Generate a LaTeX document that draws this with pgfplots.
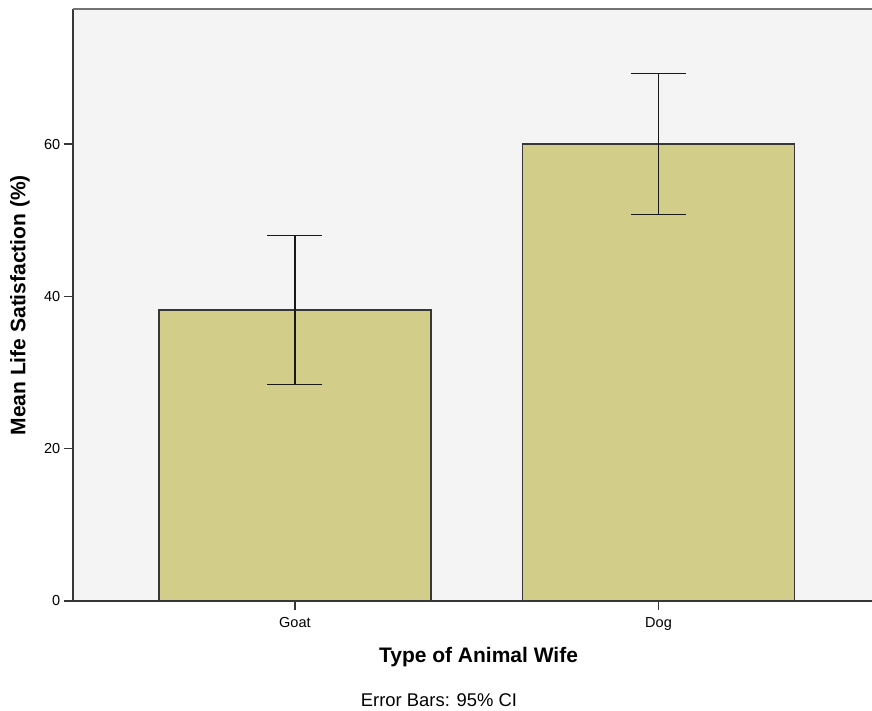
\documentclass[border=0pt]{standalone}
\usepackage{pgfplots}
\pgfplotsset{compat=1.18}
\usepackage{fontspec}
\setmainfont{Liberation Sans}
\definecolor{panel}{RGB}{244,244,244}
\definecolor{barfill}{RGB}{210,206,138}
\definecolor{edge}{RGB}{55,55,55}
\begin{document}
\begin{tikzpicture}[x=1pt,y=1pt]
\path[use as bounding box] (0,0) rectangle (872,711);
\begin{axis}[
  at={(72.7pt,110pt)}, anchor=south west,
  scale only axis, width=799.3pt, height=591.5pt,
  xmin=-0.611, xmax=1.587, ymin=0, ymax=77.7,
  axis background/.style={fill=panel},
  axis lines*=left,
  axis line style={edge, line width=1.7pt, -},
  clip=false,
  ybar,
  xtick={0,1}, xticklabels={Goat,Dog},
  ytick={0,20,40,60},
  tick align=outside, major tick length=9pt,
  tick style={edge, line width=1.5pt},
  /pgf/number format/assume math mode=true,
  ticklabel style={font=\fontsize{14.5}{16}\selectfont},
  xticklabel style={yshift=-4pt},
  xlabel={Type of Animal Wife},
  ylabel={Mean Life Satisfaction (\%)},
  label style={font=\bfseries\fontsize{21}{24}\selectfont},
  xlabel style={at={(axis description cs:0.5077,-0.0947)}, anchor=center},
  ylabel style={at={(axis description cs:-0.0659,0.5)}, anchor=center, rotate=0},
]
% top frame line
\draw[edge!70, line width=2pt] (rel axis cs:0,1) -- (rel axis cs:1,1);
\addplot[fill=barfill, draw=edge, line width=1.6pt, bar width=272pt,
  error bars/.cd, y dir=both, y explicit,
  error bar style={black!90, line width=1.4pt},
  error mark options={rotate=90, mark size=27.5pt, line width=1.4pt, black!90}]
  coordinates {(0,38.2) +- (0,9.8) (1,60.05) +- (0,9.25)};
\node[font=\fontsize{18.4}{20}\selectfont, anchor=center]
  at (axis description cs:0.4583,-0.1674) {Error Bars: 95\% CI};
\end{axis}
\end{tikzpicture}
\end{document}
